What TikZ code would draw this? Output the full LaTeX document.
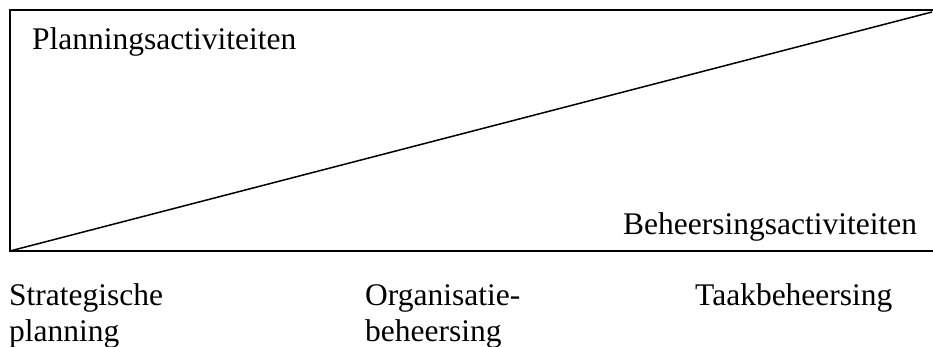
\documentclass[tikz,border=0pt]{standalone}
\usepackage{fontspec}
\setmainfont{Liberation Serif}
\begin{document}
\begin{tikzpicture}[x=1pt,y=1pt,
  lbl/.style={anchor=base west,inner sep=0pt,font=\fontsize{31.5}{36}\selectfont,align=left},
  frame/.style={line width=1.5pt},
  diag/.style={line width=1.5pt}]
\useasboundingbox (0,0) rectangle (933,347);
\coordinate (tl) at (10,337);
\coordinate (bl) at (10,96);
\coordinate (tr) at (935,337);
\coordinate (br) at (935,96);
\coordinate (dend) at (932,335);
\draw[frame] (tr) -- (tl) -- (bl) -- (br);
\draw[diag] (bl) -- (dend);
\node[lbl] (plan) at (32,297) {Planningsactiviteiten};
\node[lbl] (beh) at (623,112) {Beheersingsactiviteiten};
\node[lbl] (strat) at (9,5) {Strategische\\planning};
\node[lbl] (org) at (365,5) {Organisatie-\\beheersing};
\node[lbl] (taak) at (695,41) {Taakbeheersing};
\end{tikzpicture}
\end{document}
